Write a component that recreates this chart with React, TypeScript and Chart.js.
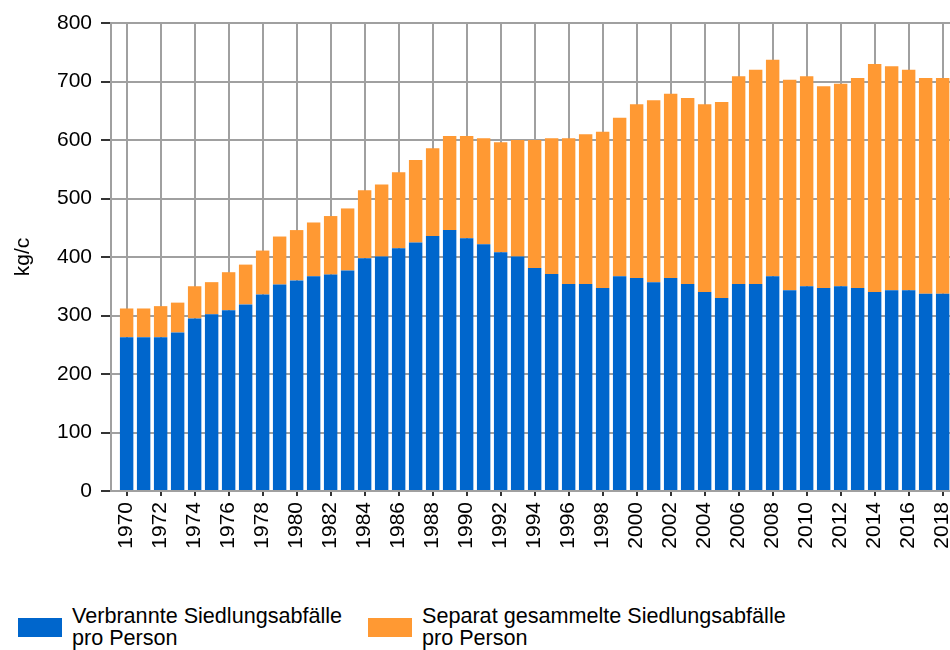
import React, { useEffect, useRef } from "react";
import { Chart, registerables } from "chart.js";

Chart.register(...registerables);

const years = [
  1970, 1971, 1972, 1973, 1974, 1975, 1976, 1977, 1978, 1979,
  1980, 1981, 1982, 1983, 1984, 1985, 1986, 1987, 1988, 1989,
  1990, 1991, 1992, 1993, 1994, 1995, 1996, 1997, 1998, 1999,
  2000, 2001, 2002, 2003, 2004, 2005, 2006, 2007, 2008, 2009,
  2010, 2011, 2012, 2013, 2014, 2015, 2016, 2017, 2018,
];

const incinerated = [
  263, 263, 263, 271, 295, 302, 309, 319, 336, 353,
  360, 367, 370, 377, 398, 401, 415, 425, 436, 446,
  432, 422, 408, 401, 381, 371, 354, 354, 347, 367,
  364, 357, 364, 354, 340, 330, 354, 354, 367, 343,
  350, 347, 350, 347, 340, 343, 343, 337, 337,
];

const separate = [
  49, 49, 53, 51, 55, 55, 65, 68, 75, 82,
  86, 92, 100, 106, 116, 123, 130, 141, 150, 161,
  175, 181, 188, 199, 219, 232, 249, 256, 267, 271,
  297, 311, 315, 318, 321, 335, 355, 366, 370, 360,
  359, 345, 346, 359, 390, 383, 377, 369, 369,
];

const seriesLabels = [
  ["Verbrannte Siedlungsabfälle", "pro Person"],
  ["Separat gesammelte Siedlungsabfälle", "pro Person"],
];
const seriesColors = ["#0066CC", "#FF9933"];
const yAxisTitle = "kg/c";

const FONT = "'Liberation Sans', Arial, sans-serif";
const GRID = "#a0a0a0";
const TICK = "#333333";

export default function App() {
  const canvasRef = useRef<HTMLCanvasElement | null>(null);

  useEffect(() => {
    const canvas = canvasRef.current;
    if (!canvas) return;
    const chart = new Chart(canvas, {
      type: "bar",
      data: {
        labels: years,
        datasets: [
          {
            label: seriesLabels[0].join(" "),
            data: incinerated,
            backgroundColor: seriesColors[0],
            borderWidth: 0,
            stack: "s",
          },
          {
            label: seriesLabels[1].join(" "),
            data: separate,
            backgroundColor: seriesColors[1],
            borderWidth: 0,
            stack: "s",
          },
        ],
      },
      options: {
        responsive: false,
        animation: false,
        devicePixelRatio: 1,
        layout: { padding: { top: 23, left: 0, right: 0, bottom: 0 } },
        plugins: {
          legend: { display: false },
          tooltip: { enabled: false },
        },
        datasets: {
          bar: { categoryPercentage: 0.79, barPercentage: 1 },
        },
        scales: {
          x: {
            type: "linear",
            stacked: true,
            offset: false,
            min: 1969.08,
            max: 2019.02,
            afterFit: (scale: any) => {
              scale.height = 79;
              scale.paddingLeft = 0;
              scale.paddingRight = 0;
            },
            ticks: {
              stepSize: 2,
              includeBounds: false,
              autoSkip: false,
              minRotation: 90,
              maxRotation: 90,
              padding: 6,
              color: "#000",
              font: { family: FONT, size: 21 },
              callback: (v: any) => String(v),
            },
            grid: {
              offset: false,
              color: GRID,
              lineWidth: 2,
              tickLength: 5,
              tickColor: TICK,
              tickWidth: 2,
            },
            border: { color: GRID, width: 2 },
          },
          y: {
            stacked: true,
            min: 0,
            max: 800,
            afterFit: (scale: any) => {
              scale.width = 111;
              scale.paddingTop = 0;
              scale.paddingBottom = 0;
            },
            ticks: {
              stepSize: 100,
              padding: 9,
              color: "#000",
              font: { family: FONT, size: 21 },
            },
            grid: {
              color: GRID,
              lineWidth: 2,
              tickLength: 10,
              tickColor: TICK,
              tickWidth: 2,
            },
            border: { color: GRID, width: 2 },
            title: {
              display: true,
              text: yAxisTitle,
              color: "#000",
              font: { family: FONT, size: 21 },
              padding: { top: 11, bottom: 0 },
            },
          },
        },
      },
    });
    return () => chart.destroy();
  }, []);

  const legendText: React.CSSProperties = {
    position: "absolute",
    top: 605,
    fontFamily: FONT,
    fontSize: 21.6,
    lineHeight: "22px",
    color: "#000",
    whiteSpace: "nowrap",
  };
  const swatch: React.CSSProperties = {
    position: "absolute",
    top: 618,
    width: 44,
    height: 19,
  };

  return (
    <div
      style={{
        position: "fixed",
        left: 0,
        top: 0,
        width: 950,
        height: 650,
        overflow: "hidden",
        background: "#fff",
      }}
    >
      <canvas
        ref={canvasRef}
        width={960}
        height={570}
        style={{ position: "absolute", left: 0, top: 0, width: 960, height: 570 }}
      />
      <div style={{ ...swatch, left: 18, background: seriesColors[0] }} />
      <div style={{ ...legendText, left: 72 }}>
        {seriesLabels[0][0]}
        <br />
        {seriesLabels[0][1]}
      </div>
      <div style={{ ...swatch, left: 368, background: seriesColors[1] }} />
      <div style={{ ...legendText, left: 422 }}>
        {seriesLabels[1][0]}
        <br />
        {seriesLabels[1][1]}
      </div>
    </div>
  );
}
